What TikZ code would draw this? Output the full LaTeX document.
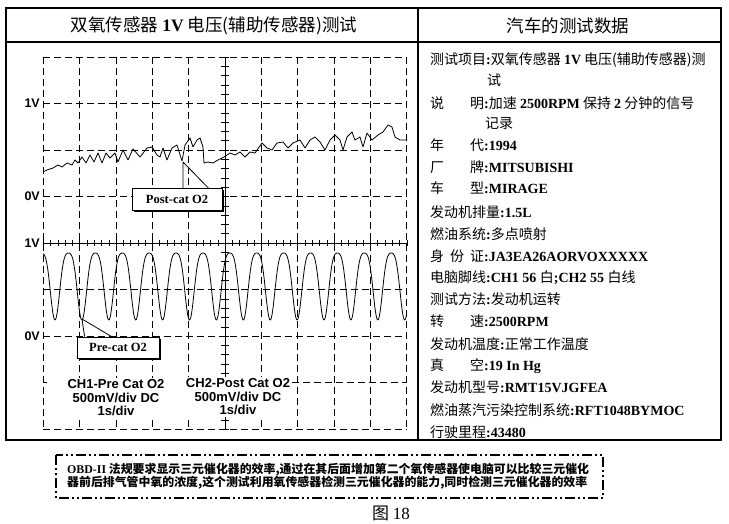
\documentclass[tikz,border=0pt]{standalone}
\usepackage{fontspec}
\setmainfont{Liberation Serif}
\newfontfamily\cjk{Noto Sans CJK SC}
\newfontfamily\arial{Liberation Sans}
\usetikzlibrary{positioning, shadows}
\newcommand{\en}[1]{{\rmfamily\bfseries #1}}

\begin{document}
\begin{tikzpicture}[x=1pt, y=-1pt,
		frame/.style={line width=1.6pt},
		gridline/.style={dash pattern=on 7pt off 4pt, line width=0.7pt},
		trace/.style={line width=0.8pt, line join=round},
		volt/.style={font=\arial\bfseries\fontsize{12.5}{14}\selectfont, anchor=east, inner sep=1pt},
		chan/.style={font=\arial\bfseries\fontsize{13}{13.5}\selectfont, align=center, fill=white, inner sep=2pt},
		callout/.style={draw, line width=0.8pt, fill=white, minimum width=90pt, minimum height=22pt,
			font=\bfseries\fontsize{12.5}{14}\selectfont,
			drop shadow={shadow xshift=1.8pt, shadow yshift=-1.8pt, fill=black, opacity=1}},
		info/.style={anchor=west, inner sep=0pt, font=\cjk\fontsize{14}{16}\selectfont},
		title/.style={font=\cjk\fontsize{17.5}{20}\selectfont},
		notebox/.style={line width=1.4pt, dash pattern=on 10pt off 3pt on 2pt off 3pt on 2pt off 3pt}]
		
		\useasboundingbox (0,0) rectangle (729,524);
		
		% Oscilloscope grid
		\foreach \i in {0,1,2,3,4,6,7,8,9,10}
		\draw[gridline] ({43.3+36.34*\i},57) -- ({43.3+36.34*\i},429);
		\foreach \j in {0,1,2,3,5,6,8}
		\draw[gridline] (43.3,{57+46.5*\j}) -- (406.7,{57+46.5*\j});
		\draw[gridline] (292,382.5) -- (406.7,382.5);
		\draw[line width=0.7pt] (43.3,382.5) -- (47,382.5);
		
		% Centre axis and 1V line with ticks
		\draw[line width=0.8pt] (225,57) -- (225,429);
		\foreach \k in {0,...,40}
		\draw (221,{57+9.3*\k}) -- (229,{57+9.3*\k});
		\draw[line width=0.8pt] (43.3,243) -- (406.7,243);
		\foreach \k in {0,...,50}
		\draw ({43.3+7.268*\k},240) -- ({43.3+7.268*\k},246);
		
		% Voltage labels
		\node[volt] (v1top) at (41,103) {1V};
		\node[volt] (v0top) at (41,196) {0V};
		\node[volt] (v1bot) at (41,243) {1V};
		\node[volt] (v0bot) at (41,336) {0V};
		
		% Post-cat O2 trace
		\draw[trace] plot coordinates {(43,172) (47,170) (53,168) (58,165) (62,167) (67,163)
			(72,165) (75,160) (78,163) (82,157) (86,163) (90,155) (94,162) (98,153) (102,163)
			(106,153) (110,158) (115,153) (118,162) (123,150) (128,160) (133,149) (140,157)
			(147,148) (152,147) (157,155) (160,157) (163,148) (167,160) (172,148) (177,145)
			(182,161) (185,145) (190,138) (193,147) (197,140) (200,138) (203,147) (204,163)
			(208,162) (213,163) (218,160) (224,157) (230,153) (235,155) (240,152) (245,157)
			(250,152) (255,153) (262,143) (267,148) (272,150) (277,143) (283,142) (288,148)
			(293,143) (300,140) (305,148) (310,140) (315,137) (320,142) (325,150) (330,140)
			(335,135) (340,140) (343,150) (347,137) (352,132) (355,140) (360,137) (363,147)
			(367,133) (372,140) (378,135) (383,132) (388,125) (392,127) (395,137) (400,140)
			(407,140)};
		
		% Pre-cat O2 trace
		\draw[trace] plot[domain=43.3:406.7, samples=600]
		(\x, {279.8 - 33.5*(sin(270+(\x-55)*13.383) + 0.2*cos(2*(270+(\x-55)*13.383)))});
		
		% Callouts
		\node[callout] (post) at (177,199.5) {Post-cat O2};
		\coordinate (posttip) at (183,162);
		\draw[line width=0.8pt] (posttip) -- (posttip |- post.north)
		(posttip) -- ([xshift=-14pt]post.north east);
		
		\node[callout, minimum width=82pt, minimum height=21pt] (pre) at (118,347.5) {Pre-cat O2};
		\coordinate (pretip) at (82,319);
		\draw[line width=0.8pt] (pretip) -- ([xshift=8pt]pre.north west)
		(pretip) -- ([xshift=35pt]pre.north west);
		
		% Channel settings
		\node[chan] (ch1) at (116,398) {CH1-Pre Cat O2\\500mV/div DC\\1s/div};
		\node[chan] (ch2) at (238,397) {CH2-Post Cat O2\\500mV/div DC\\1s/div};
		
		% Outer frame and headers
		\draw[frame] (6,8) rectangle (721,440);
		\draw[frame] (6,42) -- (721,42);
		\draw[frame] (418,8) -- (418,440);
		\node[title] (scopetitle) at (214,26) {双氧传感器 \en{1V} 电压(辅助传感器)测试};
		\node[title] (datatitle) at (568,26) {汽车的测试数据};
		
		% Vehicle data
		\node[info] (item) at (430,60) {测试项目\en{:}双氧传感器 \en{1V} 电压(辅助传感器)测};
		\node[info] (item2) at (487,80) {试};
		\node[info] (desc) at (430,103) {说\hspace{26pt}明\en{:}加速 \en{2500RPM} 保持 \en{2} 分钟的信号};
		\node[info] (desc2) at (485,123) {记录};
		\node[info] (year) at (430,145) {年\hspace{26pt}代\en{:1994}};
		\node[info] (make) at (430,167) {厂\hspace{26pt}牌\en{:MITSUBISHI}};
		\node[info] (model) at (430,188) {车\hspace{26pt}型\en{:MIRAGE}};
		\node[info] (disp) at (430,212) {发动机排量\en{:1.5L}};
		\node[info] (fuel) at (430,234) {燃油系统\en{:}多点喷射};
		\node[info] (vin) at (430,256) {身\hspace{6pt}份\hspace{6pt}证\en{:JA3EA26AORVOXXXXX}};
		\node[info] (pins) at (430,278) {电脑脚线\en{:CH1 56 }白\en{;CH2 55 }白线};
		\node[info] (method) at (430,299) {测试方法\en{:}发动机运转};
		\node[info] (rpm) at (430,321) {转\hspace{26pt}速\en{:2500RPM}};
		\node[info] (temp) at (430,344) {发动机温度\en{:}正常工作温度};
		\node[info] (vac) at (430,366) {真\hspace{26pt}空\en{:19 In Hg}};
		\node[info] (engine) at (430,387) {发动机型号\en{:RMT15VJGFEA}};
		\node[info] (evap) at (430,410) {燃油蒸汽污染控制系统\en{:RFT1048BYMOC}};
		\node[info] (miles) at (430,432) {行驶里程\en{:43480}};
		
		% Note box
		\draw[notebox] (56,455) rectangle (603,498);
		\node[anchor=west, align=left, inner sep=0pt, font=\cjk\bfseries\fontsize{11.9}{13.2}\selectfont] (note) at (67,476.5)
		{\en{OBD-II} 法规要求显示三元催化器的效率,通过在其后面增加第二个氧传感器使电脑可以比较三元催化\\
			器前后排气管中氧的浓度,这个测试利用氧传感器检测三元催化器的能力,同时检测三元催化器的效率};
		
		% Caption
		\node[font=\cjk\fontsize{17}{18}\selectfont] (caption) at (391,513) {图 {\rmfamily 18}};
		
	\end{tikzpicture}
\end{document}
